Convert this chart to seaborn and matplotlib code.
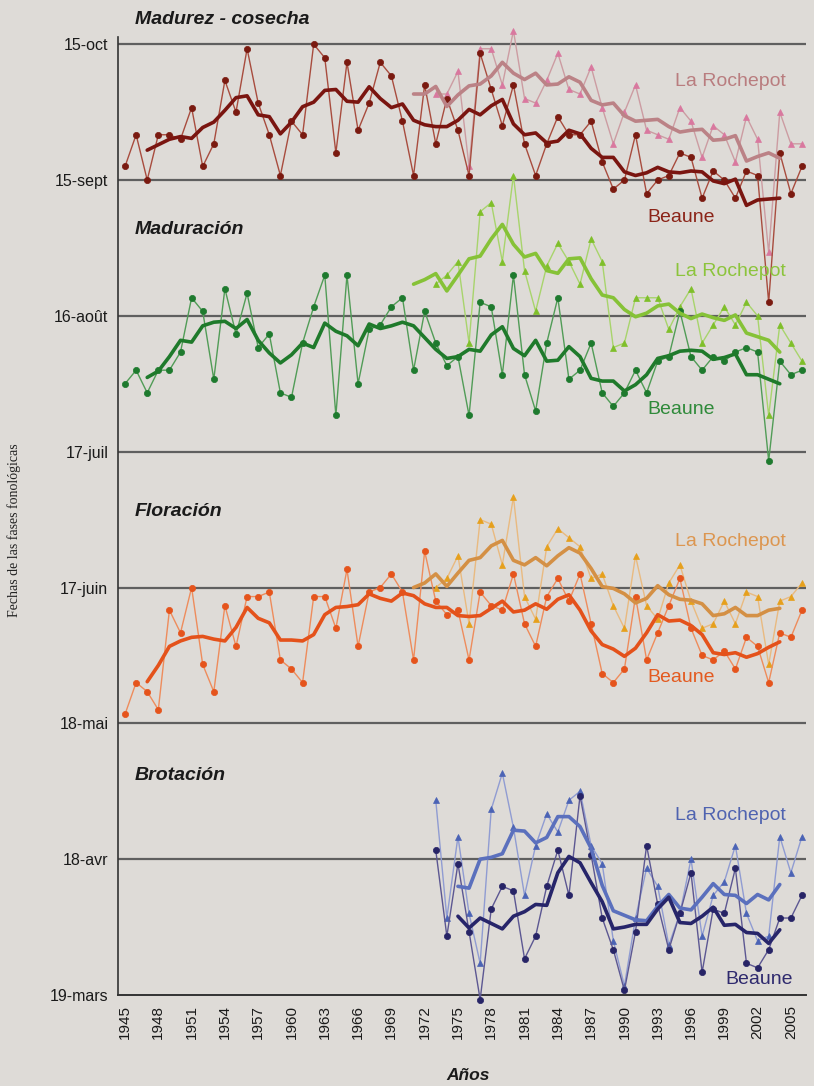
import pandas as pd
import numpy as np
import seaborn as sns
import matplotlib.pyplot as plt

sns.set_style("white")
plt.rcParams['font.family'] = ['Liberation Sans', 'DejaVu Sans']

# day of year for each phase (15-oct = 288 ... 19-mars = 78)
years_all = list(range(1945, 2007))
years_lr = list(range(1973, 2007))

cosecha_beaune = [261, 268, 258, 268, 268, 267, 274, 261, 266, 280, 273, 287, 275, 268, 259, 271,
                  268, 288, 285, 264, 284, 269, 275, 284, 281, 271, 259, 279, 266, 276, 269, 259,
                  286, 278, 270, 279, 266, 259, 266, 272, 268, 268, 271, 262, 256, 258, 268, 255,
                  258, 259, 264, 263, 254, 260, 258, 254, 260, 259, 231, 264, 255, 261]
cosecha_rochepot = [277, 277, 282, 261, 287, 287, 279, 291, 276, 275, 280, 286, 278, 277, 283, 274,
                    266, 273, 279, 269, 268, 267, 274, 271, 263, 270, 268, 262, 272, 267, 242, 273,
                    266, 266]

maduracion_beaune = [213, 216, 211, 216, 216, 220, 232, 229, 214, 234, 224, 233, 221, 224, 211, 210,
                     222, 230, 237, 206, 237, 213, 225, 226, 230, 232, 216, 229, 222, 217, 219, 206,
                     231, 230, 215, 237, 215, 207, 222, 232, 214, 216, 222, 211, 208, 211, 216, 211,
                     218, 219, 229, 219, 216, 219, 218, 220, 221, 220, 196, 218, 215, 216]
maduracion_rochepot = [235, 237, 240, 222, 251, 253, 240, 259, 238, 229, 239, 244, 240, 235, 245, 240,
                       221, 222, 232, 232, 232, 225, 230, 234, 222, 226, 230, 226, 231, 228, 206, 226,
                       222, 218]

floracion_beaune = [140, 147, 145, 141, 163, 158, 168, 151, 145, 164, 155, 166, 166, 167, 152, 150,
                    147, 166, 166, 159, 172, 155, 167, 168, 171, 167, 152, 176, 165, 162, 163, 152,
                    167, 164, 163, 171, 160, 155, 166, 170, 165, 171, 160, 149, 147, 150, 166, 152,
                    158, 164, 170, 159, 153, 152, 154, 150, 157, 155, 147, 158, 157, 163]
floracion_rochepot = [168, 170, 175, 160, 183, 182, 173, 188, 166, 161, 177, 181, 179, 177, 170, 171,
                      164, 159, 175, 164, 161, 169, 173, 165, 159, 160, 165, 160, 167, 166, 151, 165,
                      166, 169]

brotacion_beaune = [110, 91, 107, 92, 77, 97, 102, 101, 86, 91, 102, 110, 100, 122, 109, 95,
                    88, 79, 92, 111, 98, 88, 96, 105, 83, 97, 96, 106, 85, 84, 88, 95,
                    95, 100]
brotacion_rochepot = [121, 95, 113, 96, 85, 119, 127, 115, 100, 111, 118, 114, 121, 123, 111, 107,
                      90, 80, 95, 106, 102, 89, 96, 108, 91, 100, 103, 111, 96, 90, 91, 113,
                      105, 113]

tick_doy = [78, 108, 138, 168, 198, 228, 258, 288]
tick_lbl = ['19-mars', '18-avr', '18-mai', '17-juin', '17-juil', '16-août', '15-sept', '15-oct']

bg = '#dedbd7'
fig = plt.figure(figsize=(8.14, 10.86), dpi=100, facecolor=bg)
ax = fig.add_axes([0.145, 0.0838, 0.845, 0.893], facecolor=bg)


def smooth(yrs, vals, start):
    s = pd.Series(vals, index=yrs, dtype=float).reindex(range(1941, 2011))
    r = s.rolling(5, center=True, min_periods=1).mean().loc[start:2004]
    return r.index.values, r.values


# (years, values, marker, thin color, marker color, smooth color, smooth start)
series = [
    (years_lr, cosecha_rochepot, '^', '#cc9ca2', '#d9789f', '#bb8286', 1971),
    (years_all, cosecha_beaune, 'o', '#a84c3e', '#7a1a10', '#7a1510', 1947),
    (years_lr, maduracion_rochepot, '^', '#a8d46c', '#7fbf2a', '#86c237', 1971),
    (years_all, maduracion_beaune, 'o', '#519c57', '#1e7a2e', '#1f7a2b', 1947),
    (years_lr, floracion_rochepot, '^', '#e9ba80', '#e6a01c', '#d49045', 1971),
    (years_all, floracion_beaune, 'o', '#ee8c5c', '#e5541c', '#e4521b', 1947),
    (years_lr, brotacion_rochepot, '^', '#909cd2', '#4b63b5', '#5b70bd', 1975),
    (years_all[28:], brotacion_beaune, 'o', '#5c5792', '#272466', '#27256a', 1975),
]

for d in tick_doy[1:]:
    ax.axhline(d, color='#5f5f5f', lw=1.6, zorder=1)

for yrs, vals, mk, c_thin, c_mk, c_sm, st in series:
    sns.lineplot(x=yrs, y=vals, ax=ax, color=c_thin, lw=1.0, marker=mk,
                 markersize=5 if mk == '^' else 4.5, markerfacecolor=c_mk,
                 markeredgecolor=c_mk, markeredgewidth=0.5, clip_on=False, zorder=3)
    sx, sy = smooth(yrs, vals, st)
    sns.lineplot(x=sx, y=sy, ax=ax, color=c_sm, lw=2.6, zorder=4)

ax.set_xlim(1944.37, 2006.35)
ax.set_ylim(78, 292.2)
ax.set_yticks(tick_doy, labels=tick_lbl)
ax.set_xticks(list(range(1945, 2006, 3)))
ax.set_xticklabels([str(y) for y in range(1945, 2006, 3)], rotation=90)
ax.set_xticks(list(range(1945, 2007)), minor=True)
ax.tick_params(axis='both', which='both', direction='out', length=4, width=1,
               color='#333333', pad=3)
ax.tick_params(axis='y', labelsize=11.5, labelcolor='#1a1a1a')
ax.tick_params(axis='x', labelsize=11, labelcolor='#1a1a1a')
ax.set_xlabel('')
ax.set_ylabel('')
sns.despine(ax=ax)
ax.spines['left'].set_bounds(78, 289.5)
ax.spines['left'].set_color('#333333')
ax.spines['bottom'].set_color('#333333')
ax.spines['left'].set_linewidth(1.2)
ax.spines['bottom'].set_linewidth(1.4)


def px(x, y):
    return x / 814, 1 - y / 1086


ttl = dict(fontsize=14, fontweight='bold', fontstyle='italic', color='#1a1a1a', va='center')
for txt, yy in [('Madurez - cosecha', 19), ('Maduración', 229), ('Floración', 511), ('Brotación', 776)]:
    fig.text(*px(135, yy), txt, **ttl)

labels = [
    ('La Rochepot', 675, 82, '#b97d7f'), ('Beaune', 647, 218, '#8b2418'),
    ('La Rochepot', 675, 272, '#8cc43c'), ('Beaune', 647, 409, '#2f8a3a'),
    ('La Rochepot', 675, 542, '#dc9650'), ('Beaune', 647, 678, '#e35a20'),
    ('La Rochepot', 675, 815, '#4f63b0'), ('Beaune', 725, 980, '#2f2a6e'),
]
for txt, x, y, c in labels:
    fig.text(*px(x, y), txt, fontsize=14, color=c, va='center')

fig.text(*px(468, 1075), 'Años', fontsize=12.5, fontweight='bold', fontstyle='italic',
         ha='center', va='center', color='#1a1a1a')
fig.text(*px(14, 530), 'Fechas de las fases fonológicas', rotation=90, fontsize=10,
         family=['Liberation Serif', 'DejaVu Serif'], ha='center', va='center', color='#222222')

fig.savefig('out.png', dpi=100, facecolor=bg)
